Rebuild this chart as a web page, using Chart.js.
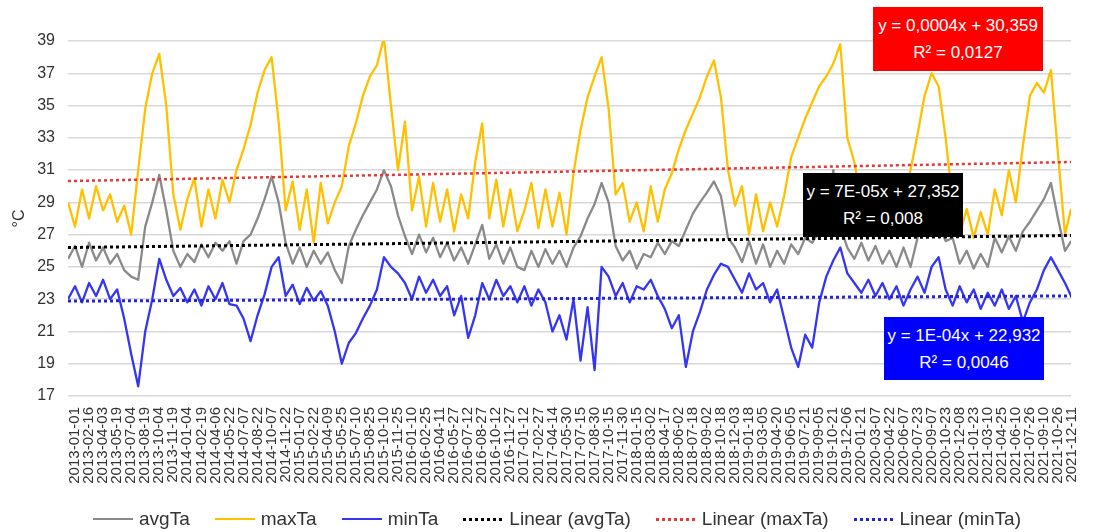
<!DOCTYPE html>
<html>
<head>
<meta charset="utf-8">
<script src="https://cdn.jsdelivr.net/npm/chart.js@4.4.1/dist/chart.umd.min.js"></script>
<style>
html,body{margin:0;padding:0;background:#ffffff;}
#wrap{position:relative;width:1094px;height:532px;overflow:hidden;}
#chart{position:absolute;left:0;top:0;}
.box{position:absolute;color:#ffffff;font-family:"Liberation Sans",Arial,sans-serif;font-size:17px;text-align:center;display:flex;flex-direction:column;justify-content:center;line-height:27px;}
#legend{position:absolute;left:93px;top:506px;height:26px;display:flex;align-items:center;gap:25px;font-family:"Liberation Sans",Arial,sans-serif;font-size:19px;color:#333333;white-space:nowrap;}
.li{display:flex;align-items:center;}
.ls{width:40px;margin-right:6px;}
</style>
</head>
<body>
<div id="wrap">
  <canvas id="chart" width="1094" height="532"></canvas>
  <div class="box" style="left:873px;top:7px;width:170px;height:64px;background:#ff0000;"><div>y = 0,0004x + 30,359</div><div>R² = 0,0127</div></div>
  <div class="box" style="left:803px;top:173px;width:160px;height:64px;background:#000000;"><div>y = 7E-05x + 27,352</div><div>R² = 0,008</div></div>
  <div class="box" style="left:884px;top:317px;width:160px;height:63px;background:#0000ff;"><div>y = 1E-04x + 22,932</div><div>R² = 0,0046</div></div>
  <div id="legend"></div>
</div>
<script>
// ---- data (one sample every 23 days from 2013-01-01; last sample 2021-12-31) ----
const tickLabels = [
 "2013-01-01","2013-02-16","2013-04-03","2013-05-19","2013-07-04","2013-08-19","2013-10-04","2013-11-19",
 "2014-01-04","2014-02-19","2014-04-06","2014-05-22","2014-07-07","2014-08-22","2014-10-07","2014-11-22",
 "2015-01-07","2015-02-22","2015-04-09","2015-05-25","2015-07-10","2015-08-25","2015-10-10","2015-11-25",
 "2016-01-10","2016-02-25","2016-04-11","2016-05-27","2016-07-12","2016-08-27","2016-10-12","2016-11-27",
 "2017-01-12","2017-02-27","2017-04-14","2017-05-30","2017-07-15","2017-08-30","2017-10-15","2017-11-30",
 "2018-01-15","2018-03-02","2018-04-17","2018-06-02","2018-07-18","2018-09-02","2018-10-18","2018-12-03",
 "2019-01-18","2019-03-05","2019-04-20","2019-06-05","2019-07-21","2019-09-05","2019-10-21","2019-12-06",
 "2020-01-21","2020-03-07","2020-04-22","2020-06-07","2020-07-23","2020-09-07","2020-10-23","2020-12-08",
 "2021-01-23","2021-03-10","2021-04-25","2021-06-10","2021-07-26","2021-09-10","2021-10-26","2021-12-11"
];
const tickStepDays = 46;
const sampleStepDays = 23;
const lastDay = 3286; // 2021-12-31

const maxTa = [
 29.0,27.5,29.8,28.0,30.0,28.5,29.5,27.8,28.8,27.0,
 31.0,34.8,37.0,38.2,35.0,29.5,27.3,29.2,30.5,27.5,
 29.8,28.0,30.4,29.0,31.0,32.3,33.8,35.8,37.2,38.0,
 34.0,28.5,30.3,27.3,29.8,26.5,30.2,27.7,29.0,30.0,
 32.5,33.9,35.6,36.8,37.5,39.2,35.0,31.0,34.0,28.5,
 30.6,27.5,30.2,27.8,29.8,27.2,29.5,28.0,31.5,33.9,
 28.0,30.4,27.5,29.8,27.2,28.5,30.2,27.4,29.8,27.5,
 29.6,27.0,30.8,33.5,35.5,36.8,38.0,34.8,29.5,30.2,
 27.8,29.0,27.2,30.0,27.8,29.8,30.8,32.3,33.5,34.5,
 35.5,36.8,37.8,35.5,31.0,28.8,30.0,27.0,29.5,27.2,
 29.0,27.5,29.4,31.8,33.0,34.2,35.2,36.2,36.8,37.6,
 38.8,33.0,31.5,29.0,30.4,28.0,29.5,27.6,30.0,29.0,
 31.0,33.2,35.6,37.0,36.2,33.0,29.0,27.0,28.6,26.8,
 28.4,27.0,29.8,28.2,31.0,29.0,32.5,35.6,36.4,35.8,
 37.2,32.0,27.0,28.6
];
const avgTa = [
 25.5,26.3,25.0,26.5,25.4,26.2,25.2,25.8,24.8,24.4,
 24.2,27.5,29.0,30.7,28.5,26.0,25.0,25.8,25.3,26.4,
 25.6,26.5,26.0,26.6,25.2,26.6,27.0,28.0,29.2,30.6,
 29.0,26.5,25.2,26.2,25.0,26.0,25.2,25.9,24.8,24.0,
 26.3,27.3,28.2,29.0,29.8,31.0,30.0,28.2,26.9,25.8,
 27.0,25.9,26.8,25.6,26.5,25.4,26.2,25.2,26.4,27.6,
 25.5,26.4,25.2,26.2,25.0,24.8,26.0,25.0,26.1,25.2,
 26.0,25.0,26.2,26.9,28.0,28.9,30.2,29.0,26.3,25.4,
 26.0,24.9,25.8,25.6,26.5,25.8,26.6,26.3,27.3,28.3,
 29.0,29.6,30.3,29.4,26.8,26.2,25.3,26.6,25.2,26.4,
 25.0,26.0,25.2,26.4,25.8,26.8,26.5,27.2,27.8,31.0,
 27.5,26.2,25.5,26.5,25.4,26.3,25.2,26.0,25.0,26.2,
 25.0,26.8,27.8,28.6,27.6,26.6,26.8,25.2,26.0,24.9,
 25.8,25.0,26.8,25.9,26.9,26.0,27.2,27.8,28.5,29.2,
 30.2,28.0,26.0,26.6
];
const minTa = [
 23.0,23.8,22.8,24.0,23.2,24.2,23.0,23.6,21.8,19.6,
 17.6,21.0,23.0,25.5,24.2,23.2,23.7,22.8,23.6,22.6,
 23.8,23.0,24.0,22.7,22.6,21.8,20.4,22.0,23.3,25.0,
 25.6,23.2,23.9,22.7,23.7,22.9,23.5,22.6,21.0,19.0,
 20.3,20.9,21.8,22.6,23.6,25.6,25.0,24.6,24.0,23.0,
 24.4,23.4,24.2,23.2,23.8,22.0,23.2,20.6,22.0,24.0,
 23.0,24.2,23.2,23.8,22.8,23.8,22.6,23.6,22.8,21.0,
 22.0,20.5,23.0,19.2,22.5,18.6,25.0,24.4,23.2,24.0,
 22.8,23.8,23.6,24.2,23.2,22.4,21.2,22.0,18.8,21.0,
 22.2,23.6,24.5,25.2,25.0,24.2,23.4,24.6,23.6,24.0,
 22.8,23.6,21.8,20.0,18.8,20.8,20.0,22.8,24.4,25.4,
 26.2,24.6,24.0,23.4,24.2,23.2,24.0,23.0,23.8,22.6,
 23.6,24.4,23.4,25.0,25.6,23.6,22.6,23.8,22.8,23.6,
 22.4,23.4,22.6,23.6,22.4,23.2,21.6,22.8,23.6,24.8,
 25.6,24.8,24.0,23.2
];
// linear trend lines: value at first day and at last day, as drawn
const trendAvg = [26.2, 26.95];
const trendMax = [30.32, 31.5];
const trendMin = [22.88, 23.2];

const seriesNames = ["avgTa","maxTa","minTa","Linear (avgTa)","Linear (maxTa)","Linear (minTa)"];
const seriesColors = ["#8a8a8a","#ffc000","#3535f2","#000000","#e03a3a","#2525c8"];

// ---- build ----
const sampleDays = maxTa.map((_, i) => Math.min(i * sampleStepDays, lastDay));
const pts = arr => arr.map((v, i) => ({x: sampleDays[i], y: v}));
const trendPts = t => [{x: 0, y: t[0]}, {x: lastDay, y: t[1]}];

const baseLine = {pointRadius: 0, pointHoverRadius: 0, tension: 0, fill: false, borderJoinStyle: 'round'};
const datasets = [
  Object.assign({label: seriesNames[0], data: pts(avgTa), borderColor: seriesColors[0], borderWidth: 2.3, order: 3}, baseLine),
  Object.assign({label: seriesNames[1], data: pts(maxTa), borderColor: seriesColors[1], borderWidth: 2.3, order: 2}, baseLine),
  Object.assign({label: seriesNames[2], data: pts(minTa), borderColor: seriesColors[2], borderWidth: 2.3, order: 1}, baseLine),
  Object.assign({label: seriesNames[3], data: trendPts(trendAvg), borderColor: seriesColors[3], borderWidth: 3, borderDash: [3, 3], order: 0}, baseLine),
  Object.assign({label: seriesNames[4], data: trendPts(trendMax), borderColor: seriesColors[4], borderWidth: 2.5, borderDash: [3, 3], order: 0}, baseLine),
  Object.assign({label: seriesNames[5], data: trendPts(trendMin), borderColor: seriesColors[5], borderWidth: 3, borderDash: [3, 3], order: 0}, baseLine)
];

const chart = new Chart(document.getElementById('chart'), {
  type: 'line',
  data: {datasets},
  options: {
    responsive: false,
    devicePixelRatio: 1,
    animation: false,
    layout: {padding: {top: 41, right: 2, bottom: 36, left: 0}},
    plugins: {legend: {display: false}, tooltip: {enabled: false}},
    scales: {
      x: {
        type: 'linear', min: 0, max: lastDay,
        grid: {display: false, drawTicks: false},
        border: {display: false},
        afterBuildTicks: s => { s.ticks = tickLabels.map((t, k) => ({value: k * tickStepDays})); },
        afterFit: s => { s.height = 100; },
        ticks: {
          autoSkip: false, minRotation: 90, maxRotation: 90, padding: 11, labelOffset: 7,
          color: '#333333', font: {family: '"Liberation Sans", Arial, sans-serif', size: 15},
          callback: v => tickLabels[Math.round(v / tickStepDays)]
        }
      },
      y: {
        min: 17, max: 39,
        afterFit: s => { s.width = 68; },
        grid: {color: '#d9d9d9', lineWidth: 1.5, drawTicks: false},
        border: {display: false},
        ticks: {stepSize: 2, padding: 13, color: '#333333', font: {family: '"Liberation Sans", Arial, sans-serif', size: 16}},
        title: {display: true, text: '°C', color: '#333333', padding: {top: 10, bottom: 0}, font: {family: '"Liberation Sans", Arial, sans-serif', size: 16}}
      }
    }
  }
});

// HTML legend built from the series names / colours
const lg = document.getElementById('legend');
seriesNames.forEach((name, i) => {
  const item = document.createElement('div'); item.className = 'li';
  const sw = document.createElement('span'); sw.className = 'ls';
  if (i < 3) { sw.style.height = '2px'; sw.style.background = seriesColors[i]; }
  else { sw.style.height = '3px'; sw.style.background = 'repeating-linear-gradient(90deg,' + seriesColors[i] + ' 0 3px, transparent 3px 6px)'; }
  const tx = document.createElement('span'); tx.textContent = name;
  item.appendChild(sw); item.appendChild(tx); lg.appendChild(item);
});
</script>
</body>
</html>
